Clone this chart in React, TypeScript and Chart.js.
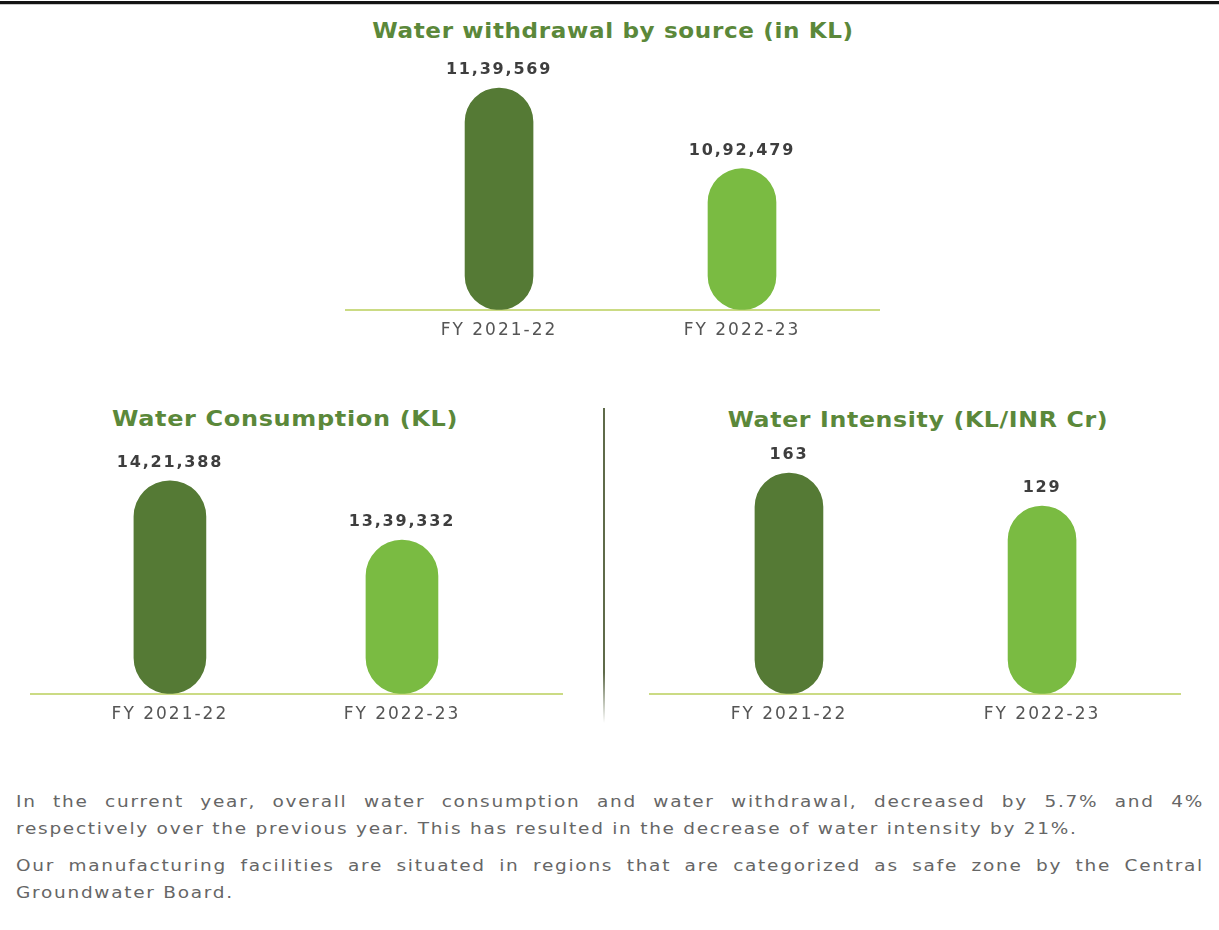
import React, { useEffect, useRef } from "react";
import { Chart, registerables } from "chart.js";

Chart.register(...registerables);

// Fiscal years shown on every panel
const categories = ["FY 2021-22", "FY 2022-23"];

// Water withdrawal by source (KL)
const withdrawalValues = [1139569, 1092479];
// Water consumption (KL)
const consumptionValues = [1421388, 1339332];
// Water intensity (KL / INR Cr)
const intensityValues = [163, 129];

const barColors = ["#557a35", "#7abb42"];
const FONT = "'DejaVu Sans', sans-serif";

function formatIndian(n: number): string {
  const s = String(Math.round(n));
  if (s.length <= 3) return s;
  const last3 = s.slice(-3);
  let rest = s.slice(0, -3);
  const parts: string[] = [];
  while (rest.length > 2) {
    parts.unshift(rest.slice(-2));
    rest = rest.slice(0, -2);
  }
  if (rest) parts.unshift(rest);
  return parts.join(",") + "," + last3;
}

type PanelProps = {
  values: number[];
  yMin: number;
  yMax: number;
  xMin: number;
  xMax: number;
  barThickness: number;
  left: number;
  top: number;
  width: number;
  height: number;
};

function PillBarChart(props: PanelProps) {
  const ref = useRef<HTMLCanvasElement | null>(null);

  useEffect(() => {
    if (!ref.current) return;
    const { values, yMin, yMax, xMin, xMax, barThickness } = props;

    const spacingPlugin = {
      id: "tickSpacing",
      beforeDraw(chart: any) {
        chart.ctx.letterSpacing = "2px";
      },
    };

    const valueLabels = {
      id: "valueLabels",
      afterDatasetsDraw(chart: any) {
        const ctx = chart.ctx;
        const meta = chart.getDatasetMeta(0);
        meta.data.forEach((bar: any, i: number) => {
          ctx.save();
          ctx.letterSpacing = "1.8px";
          ctx.font = `bold 16px ${FONT}`;
          ctx.fillStyle = "#3e3e3e";
          ctx.textAlign = "center";
          ctx.textBaseline = "middle";
          ctx.fillText(formatIndian(values[i]), bar.x, bar.y - 18);
          ctx.restore();
        });
      },
    };

    const chart = new Chart(ref.current, {
      type: "bar",
      data: {
        datasets: [
          {
            data: categories.map((_, i) => ({ x: i, y: values[i] })),
            backgroundColor: barColors,
            borderRadius: 999,
            borderSkipped: false,
            barThickness,
            base: yMin,
          } as any,
        ],
      },
      options: {
        animation: false,
        responsive: false,
        maintainAspectRatio: false,
        layout: { padding: { top: 20, left: 0, right: 0, bottom: 0 } },
        plugins: {
          legend: { display: false },
          tooltip: { enabled: false },
          title: { display: false },
        },
        scales: {
          x: {
            type: "linear",
            offset: false,
            min: xMin,
            max: xMax,
            grid: { display: false, drawTicks: false, offset: false },
            border: { display: true, color: "#cbdb84", width: 2 },
            afterBuildTicks: (scale: any) => {
              scale.ticks = categories.map((_, i) => ({ value: i }));
            },
            ticks: {
              padding: 10,
              color: "#555555",
              autoSkip: false,
              maxRotation: 0,
              font: { family: FONT, size: 17, lineHeight: 1.25 },
              callback: (v: any) => categories[v as number] ?? "",
            },
          },
          y: { display: false, min: yMin, max: yMax },
        },
      } as any,
      plugins: [spacingPlugin, valueLabels],
    });

    return () => chart.destroy();
  }, []);

  return (
    <canvas
      ref={ref}
      width={props.width}
      height={props.height}
      style={{
        position: "absolute",
        left: props.left,
        top: props.top,
        width: props.width,
        height: props.height,
      }}
    />
  );
}

// Panel headings: centred on cx, set in a widened bold face
function Heading(props: { cx: number; cy: number; stretch: number; text: string }) {
  return (
    <div
      style={{
        position: "absolute",
        left: props.cx - 300,
        width: 600,
        top: props.cy - 15,
        height: 30,
        lineHeight: "30px",
        textAlign: "center",
        fontFamily: FONT,
        fontWeight: "bold",
        fontSize: 22,
        letterSpacing: "0.6px",
        color: "#5b883a",
        whiteSpace: "nowrap",
        transform: `scaleX(${props.stretch})`,
        transformOrigin: "50% 50%",
      }}
    >
      {props.text}
    </div>
  );
}

// Body copy is set in a slightly widened face
const TEXT_SCALE = 1.155;
const lineStyle: React.CSSProperties = {
  position: "absolute",
  left: 16,
  width: 1188 / TEXT_SCALE,
  height: 27,
  lineHeight: "27px",
  fontFamily: FONT,
  fontSize: 16,
  letterSpacing: "1.5px",
  color: "#666666",
  whiteSpace: "nowrap",
  transform: `scaleX(${TEXT_SCALE})`,
  transformOrigin: "0 0",
};

const justified: React.CSSProperties = {
  ...lineStyle,
  whiteSpace: "normal",
  textAlign: "justify",
  textAlignLast: "justify",
};

export default function App() {
  return (
    <div
      style={{
        position: "absolute",
        left: 0,
        top: 0,
        width: 1219,
        height: 930,
        background: "#ffffff",
        overflow: "hidden",
      }}
    >
      <div style={{ position: "absolute", left: 0, top: 1, width: 1219, height: 3, background: "#141414" }} />
      <div style={{ position: "absolute", left: 0, top: 4, width: 1219, height: 1, background: "#c8c8c8" }} />

      <Heading cx={613} cy={31} stretch={1.05} text="Water withdrawal by source (in KL)" />
      <PillBarChart
        values={withdrawalValues}
        yMin={1010000}
        yMax={1156000}
        xMin={-0.634}
        xMax={1.568}
        barThickness={68}
        left={345}
        top={40}
        width={535}
        height={311}
      />

      <Heading cx={285} cy={419} stretch={1.09} text="Water Consumption (KL)" />
      <PillBarChart
        values={consumptionValues}
        yMin={1127000}
        yMax={1464000}
        xMin={-0.603}
        xMax={1.694}
        barThickness={72}
        left={30}
        top={430}
        width={533}
        height={305}
      />

      <div
        style={{
          position: "absolute",
          left: 603,
          top: 408,
          width: 2,
          height: 315,
          background:
            "linear-gradient(to bottom, #5f6b4a 0%, #5f6b4a 84%, rgba(95,107,74,0) 100%)",
        }}
      />

      <Heading cx={918} cy={420} stretch={1.075} text="Water Intensity (KL/INR Cr)" />
      <PillBarChart
        values={intensityValues}
        yMin={-64}
        yMax={197}
        xMin={-0.553}
        xMax={1.549}
        barThickness={68}
        left={649}
        top={420}
        width={532}
        height={315}
      />

      <div style={{ ...justified, top: 788 }}>
        In the current year, overall water consumption and water withdrawal, decreased by 5.7% and 4%
      </div>
      <div style={{ ...lineStyle, top: 815 }}>
        respectively over the previous year. This has resulted in the decrease of water intensity by 21%.
      </div>
      <div style={{ ...justified, top: 852 }}>
        Our manufacturing facilities are situated in regions that are categorized as safe zone by the Central
      </div>
      <div style={{ ...lineStyle, top: 879 }}>Groundwater Board.</div>
    </div>
  );
}
